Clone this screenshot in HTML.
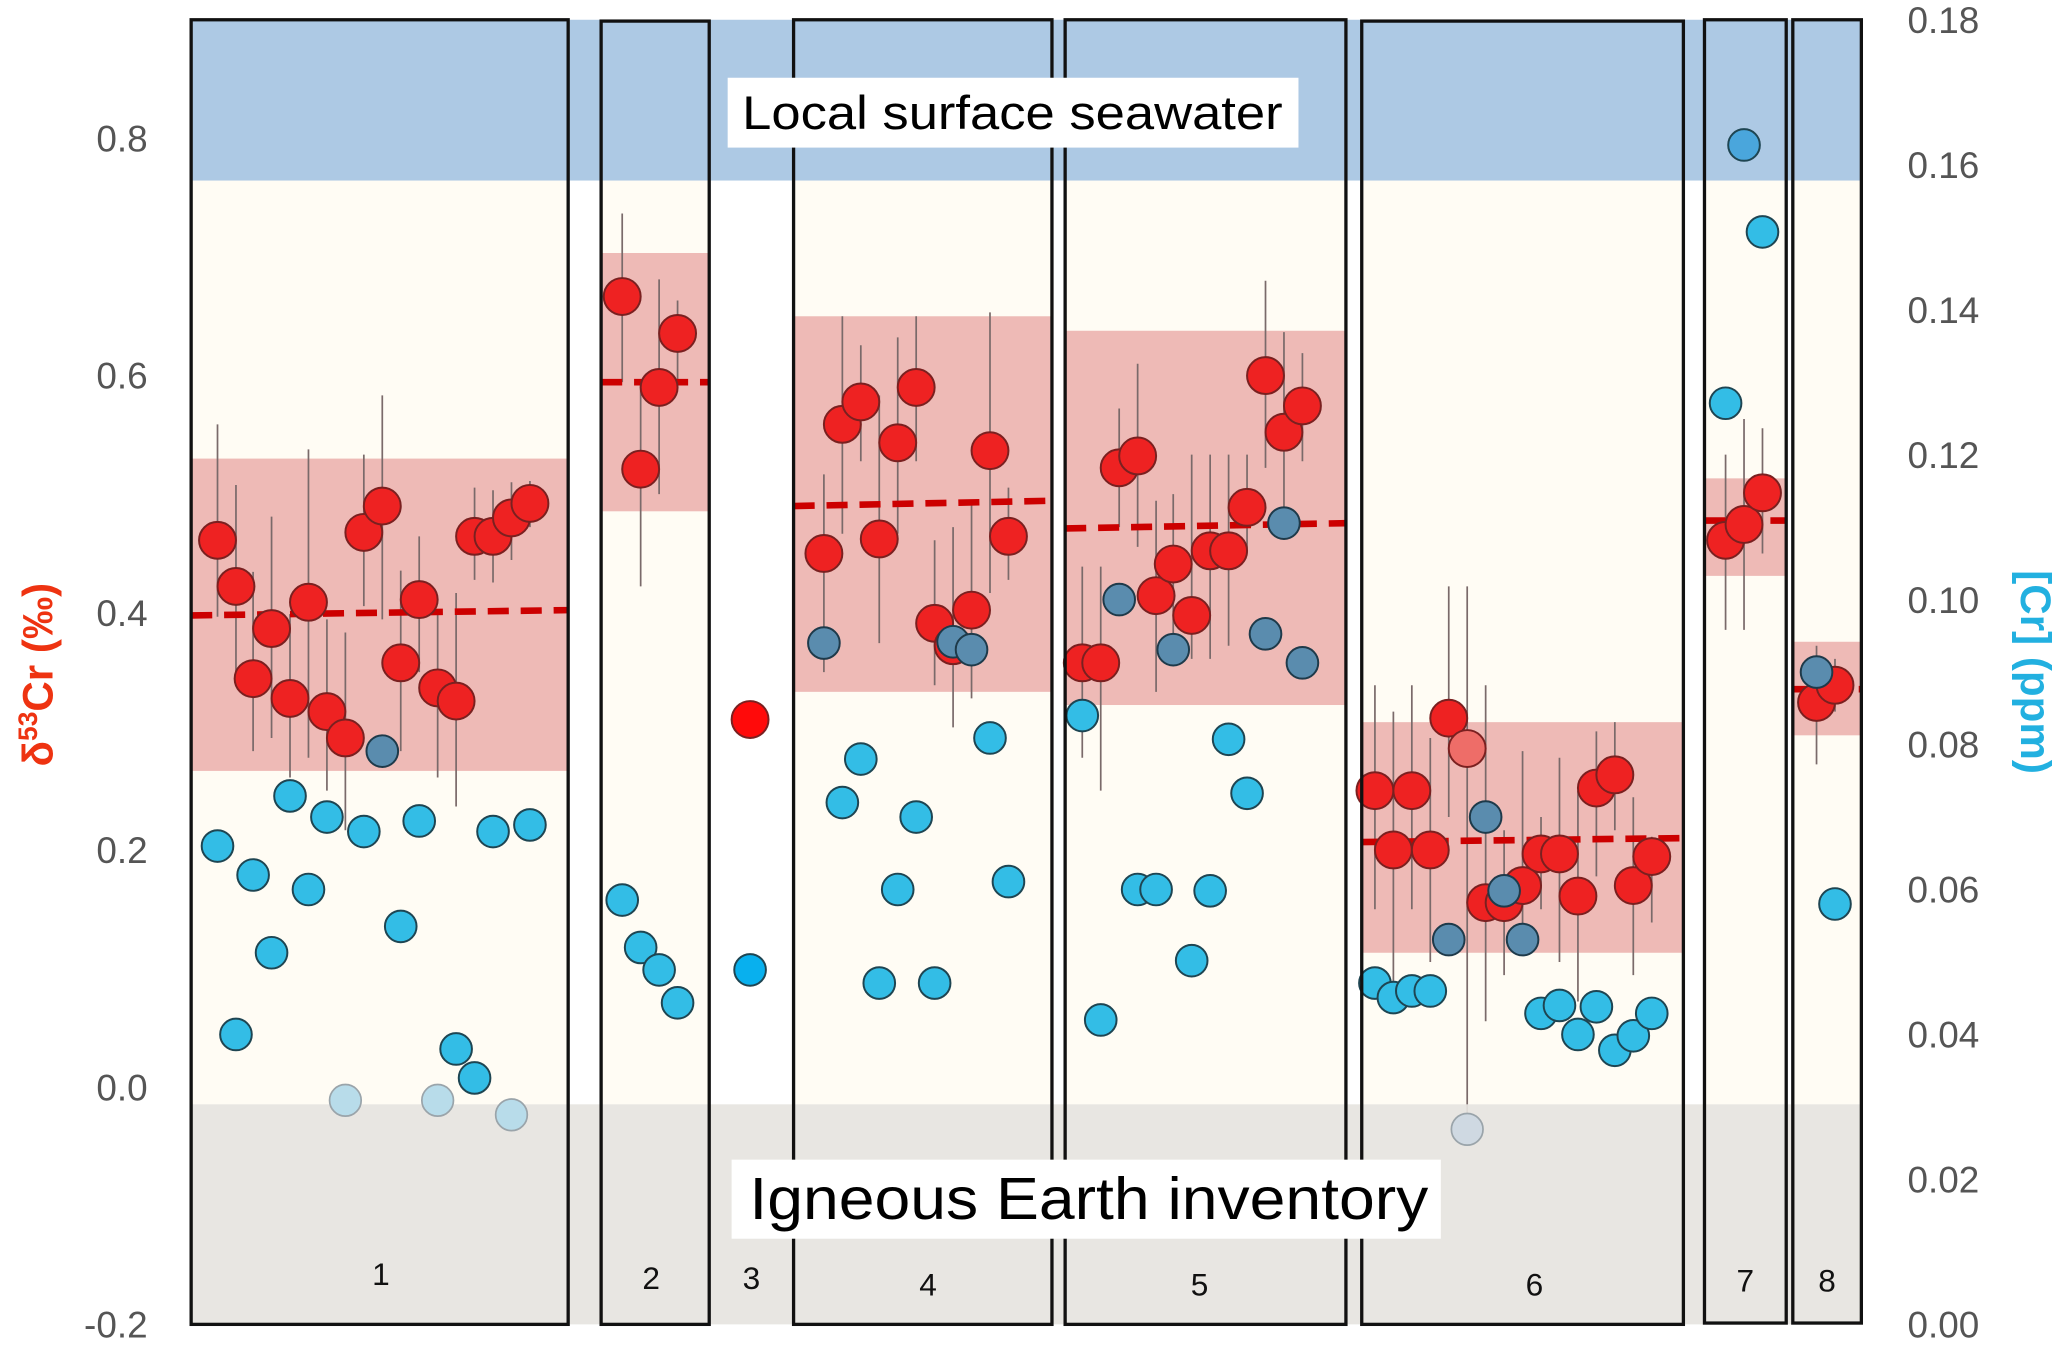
<!DOCTYPE html>
<html><head><meta charset="utf-8"><style>
html,body{margin:0;padding:0;background:#fff;}
svg{display:block;}
text{font-family:"Liberation Sans",sans-serif;}
</style></head><body>
<svg width="2067" height="1356" viewBox="0 0 1568 1029" preserveAspectRatio="none" xmlns="http://www.w3.org/2000/svg">
<rect x="0" y="0" width="1568" height="1029" fill="#fff"/>
<g fill="#fffcf4">
<rect x="145" y="137" width="286" height="701"/>
<rect x="456" y="137" width="82" height="701"/>
<rect x="602" y="137" width="196" height="701"/>
<rect x="808" y="137" width="213" height="701"/>
<rect x="1033" y="137" width="244" height="701"/>
<rect x="1293" y="137" width="62" height="701"/>
<rect x="1360" y="137" width="52" height="701"/>
</g>
<g fill="#eebab6">
<rect x="145" y="348" width="286" height="237"/>
<rect x="456" y="192" width="82" height="196"/>
<rect x="602" y="240" width="196" height="285"/>
<rect x="808" y="251" width="213" height="284"/>
<rect x="1033" y="548" width="244" height="175"/>
<rect x="1293" y="363" width="62" height="74"/>
<rect x="1360" y="487" width="52" height="71"/>
</g>
<rect x="145" y="15" width="1267" height="122" fill="#adc9e4"/>
<g stroke="#7a6a6a" stroke-width="1.3" fill="none">
<path d="M165 322V468M179 368V510M192 434V570M206 392V560M220 466V590M234 341V575M248 470V600M262 480V630M276 345V460M290 300V470M304 433V570M318 407V510M332 465V590M346 450V612M360 370V440M374 372V442M388 366V425M402 365V400"/>
<path d="M472 162V290M486 290V445M500 212V375M514 228V290"/>
<path d="M625 360V510M639 240V405M653 262V350M667 300V488M681 256V405M695 240V350M709 410V520M723 400V552M737 380V530M751 237V450M765 370V440"/>
<path d="M821 430V575M835 430V600M849 310V400M863 276V415M877 380V525M890 375V490M904 345V500M918 345V500M932 345V490M946 345V420M960 213V355M974 252V400M988 268V350"/>
<path d="M1043 520V690M1057 540V760M1071 520V690M1085 560V730M1099 445V620M1113 445V845M1127 520V775M1141 630V740M1155 570V725M1169 620V690M1183 575V730M1197 600V760M1211 555V665M1225 548V630M1239 605V740M1253 635V700"/>
<path d="M1309 345V478M1323 318V478M1337 325V420"/>
<path d="M1378 490V580M1392 500V540"/>
</g>
<g stroke="#cc0000" stroke-width="5" stroke-dasharray="16,9" fill="none">
<path d="M145 467L431 463"/>
<path d="M456 290L538 290"/>
<path d="M602 384L798 380"/>
<path d="M808 401L1021 397"/>
<path d="M1033 639L1277 636"/>
<path d="M1293 395L1355 395"/>
<path d="M1360 523L1412 523"/>
</g>
<g fill="#33bde6" stroke="#1e4552" stroke-width="1.5">
<circle cx="165" cy="642" r="12"/><circle cx="179" cy="785" r="12"/><circle cx="192" cy="664" r="12"/><circle cx="206" cy="723" r="12"/><circle cx="220" cy="604" r="12"/><circle cx="234" cy="675" r="12"/><circle cx="248" cy="620" r="12"/><circle cx="276" cy="631" r="12"/><circle cx="304" cy="703" r="12"/><circle cx="318" cy="623" r="12"/><circle cx="346" cy="796" r="12"/><circle cx="360" cy="818" r="12"/><circle cx="374" cy="631" r="12"/><circle cx="402" cy="626" r="12"/>
<circle cx="472" cy="683" r="12"/><circle cx="486" cy="719" r="12"/><circle cx="500" cy="736" r="12"/><circle cx="514" cy="761" r="12"/>
<circle cx="569" cy="736" r="12" fill="#08b0ee"/>
<circle cx="639" cy="609" r="12"/><circle cx="653" cy="576" r="12"/><circle cx="667" cy="746" r="12"/><circle cx="681" cy="675" r="12"/><circle cx="695" cy="620" r="12"/><circle cx="709" cy="746" r="12"/><circle cx="751" cy="560" r="12"/><circle cx="765" cy="669" r="12"/>
<circle cx="821" cy="543" r="12"/><circle cx="835" cy="774" r="12"/><circle cx="863" cy="675" r="12"/><circle cx="877" cy="675" r="12"/><circle cx="904" cy="729" r="12"/><circle cx="918" cy="676" r="12"/><circle cx="932" cy="561" r="12"/><circle cx="946" cy="602" r="12"/>
<circle cx="1043" cy="746" r="12"/><circle cx="1057" cy="757" r="12"/><circle cx="1071" cy="752" r="12"/><circle cx="1085" cy="752" r="12"/><circle cx="1169" cy="769" r="12"/><circle cx="1183" cy="763" r="12"/><circle cx="1197" cy="785" r="12"/><circle cx="1211" cy="764" r="12"/><circle cx="1225" cy="797" r="12"/><circle cx="1239" cy="786" r="12"/><circle cx="1253" cy="769" r="12"/>
<circle cx="1309" cy="306" r="12"/><circle cx="1323" cy="110" r="12" fill="#4aa6dc"/><circle cx="1337" cy="176" r="12"/>
<circle cx="1392" cy="686" r="12"/>
</g>
<g fill="#ee2222" stroke="#7a2020" stroke-width="1.5">
<circle cx="165" cy="410" r="14"/><circle cx="179" cy="445" r="14"/><circle cx="192" cy="515" r="14"/><circle cx="206" cy="477" r="14"/><circle cx="220" cy="530" r="14"/><circle cx="234" cy="457" r="14"/><circle cx="248" cy="540" r="14"/><circle cx="262" cy="560" r="14"/><circle cx="276" cy="404" r="14"/><circle cx="290" cy="384" r="14"/><circle cx="304" cy="503" r="14"/><circle cx="318" cy="455" r="14"/><circle cx="332" cy="522" r="14"/><circle cx="346" cy="532" r="14"/><circle cx="360" cy="407" r="14"/><circle cx="374" cy="407" r="14"/><circle cx="388" cy="393" r="14"/><circle cx="402" cy="382" r="14"/>
<circle cx="472" cy="225" r="14"/><circle cx="486" cy="356" r="14"/><circle cx="500" cy="294" r="14"/><circle cx="514" cy="253" r="14"/>
<circle cx="569" cy="546" r="14" fill="#ff0a0a"/>
<circle cx="625" cy="420" r="14"/><circle cx="639" cy="322" r="14"/><circle cx="653" cy="305" r="14"/><circle cx="667" cy="409" r="14"/><circle cx="681" cy="336" r="14"/><circle cx="695" cy="294" r="14"/><circle cx="709" cy="473" r="14"/><circle cx="723" cy="490" r="14"/><circle cx="737" cy="463" r="14"/><circle cx="751" cy="342" r="14"/><circle cx="765" cy="407" r="14"/>
<circle cx="821" cy="503" r="14"/><circle cx="835" cy="503" r="14"/><circle cx="849" cy="355" r="14"/><circle cx="863" cy="346" r="14"/><circle cx="877" cy="452" r="14"/><circle cx="890" cy="428" r="14"/><circle cx="904" cy="467" r="14"/><circle cx="918" cy="418" r="14"/><circle cx="932" cy="418" r="14"/><circle cx="946" cy="385" r="14"/><circle cx="960" cy="285" r="14"/><circle cx="974" cy="328" r="14"/><circle cx="988" cy="308" r="14"/>
<circle cx="1043" cy="600" r="14"/><circle cx="1057" cy="645" r="14"/><circle cx="1071" cy="600" r="14"/><circle cx="1085" cy="645" r="14"/><circle cx="1099" cy="545" r="14"/><circle cx="1113" cy="568" r="14" fill="#ee6d68"/><circle cx="1127" cy="685" r="14"/><circle cx="1141" cy="685" r="14"/><circle cx="1155" cy="672" r="14"/><circle cx="1169" cy="648" r="14"/><circle cx="1183" cy="648" r="14"/><circle cx="1197" cy="680" r="14"/><circle cx="1211" cy="598" r="14"/><circle cx="1225" cy="588" r="14"/><circle cx="1239" cy="672" r="14"/><circle cx="1253" cy="650" r="14"/>
<circle cx="1309" cy="410" r="14"/><circle cx="1323" cy="398" r="14"/><circle cx="1337" cy="374" r="14"/>
<circle cx="1378" cy="533" r="14"/><circle cx="1392" cy="520" r="14"/>
</g>
<g fill="#5a8cae" stroke="#1e3a4a" stroke-width="1.5">
<circle cx="290" cy="570" r="12"/><circle cx="625" cy="488" r="12"/><circle cx="723" cy="487" r="12"/><circle cx="737" cy="493" r="12"/>
<circle cx="849" cy="455" r="12"/><circle cx="890" cy="493" r="12"/><circle cx="960" cy="481" r="12"/><circle cx="974" cy="397" r="12"/><circle cx="988" cy="503" r="12"/>
<circle cx="1099" cy="713" r="12"/><circle cx="1127" cy="620" r="12"/><circle cx="1141" cy="676" r="12"/><circle cx="1155" cy="713" r="12"/><circle cx="1378" cy="510" r="12"/>
</g>
<rect x="145" y="838" width="1267" height="167" fill="#e6e4e0" fill-opacity="0.92"/>
<g fill="#cfd9e2" stroke="#9aa4aa" stroke-width="1.3">
<circle cx="262" cy="835" r="12" fill="#b8dcea"/><circle cx="332" cy="835" r="12" fill="#b8dcea"/><circle cx="388" cy="846" r="12" fill="#b8dcea"/><circle cx="1113" cy="857" r="12"/>
</g>
<g fill="none" stroke="#111" stroke-width="2.5">
<rect x="145" y="15" width="286" height="990"/>
<rect x="456" y="16" width="82" height="989"/>
<rect x="602" y="15" width="196" height="990"/>
<rect x="808" y="15" width="213" height="990"/>
<rect x="1033" y="16" width="244" height="989"/>
<rect x="1293" y="15" width="62" height="989"/>
<rect x="1360" y="15" width="52" height="989"/>
</g>
<rect x="552" y="59" width="433" height="53" fill="#fff"/>
<text x="768" y="98" font-size="36" text-anchor="middle" fill="#000" textLength="410" lengthAdjust="spacingAndGlyphs">Local surface seawater</text>
<rect x="555" y="880" width="538" height="60" fill="#fff"/>
<text x="826" y="925" font-size="45" text-anchor="middle" fill="#000" textLength="515" lengthAdjust="spacingAndGlyphs">Igneous Earth inventory</text>
<g font-size="24" fill="#111" text-anchor="middle">
<text x="289" y="975">1</text><text x="494" y="978">2</text><text x="570" y="978">3</text><text x="704" y="983">4</text><text x="910" y="983">5</text><text x="1164" y="983">6</text><text x="1324" y="980">7</text><text x="1386" y="980">8</text>
</g>
<g font-size="28" fill="#555" text-anchor="end">
<text x="112" y="115">0.8</text><text x="112" y="295">0.6</text><text x="112" y="475">0.4</text><text x="112" y="655">0.2</text><text x="112" y="835">0.0</text><text x="112" y="1015">-0.2</text>
</g>
<g font-size="28" fill="#555">
<text x="1447" y="25">0.18</text><text x="1447" y="135">0.16</text><text x="1447" y="245">0.14</text><text x="1447" y="355">0.12</text><text x="1447" y="465">0.10</text><text x="1447" y="575">0.08</text><text x="1447" y="685">0.06</text><text x="1447" y="795">0.04</text><text x="1447" y="905">0.02</text><text x="1447" y="1015">0.00</text>
</g>
<text transform="translate(40,512) rotate(-90)" font-size="32" font-weight="bold" fill="#ee3311" text-anchor="middle">δ<tspan font-size="20" dy="-12">53</tspan><tspan dy="12">Cr (‰)</tspan></text>
<text transform="translate(1533,510) rotate(90)" font-size="32" font-weight="bold" fill="#22b0e0" text-anchor="middle">[Cr] (ppm)</text>
</svg>
</body></html>
